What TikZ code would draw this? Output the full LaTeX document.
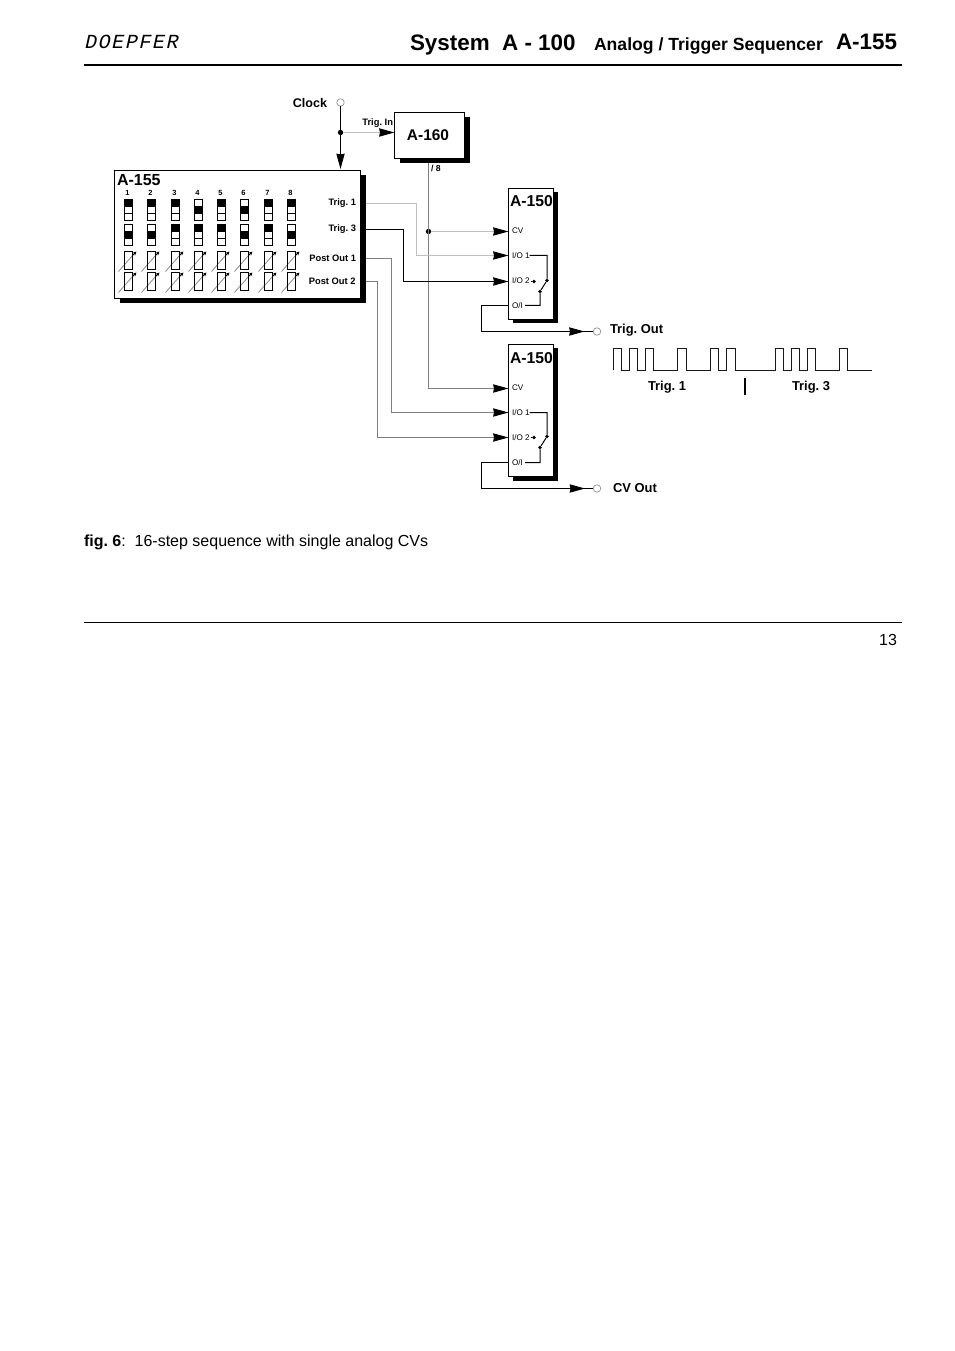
\documentclass[tikz,border=0pt]{standalone}
\usepackage{fontspec}
\setmainfont{Liberation Sans}
\newfontfamily\logofont[FakeSlant=0.22,LetterSpace=8]{Liberation Mono}
\usetikzlibrary{arrows.meta,shadows,calc}
\newcommand{\fsz}[1]{\fontsize{#1}{#1}\selectfont}
\frenchspacing
\tikzset{
  x=0.75pt,y=-0.75pt,
  lbl/.style={inner sep=0pt,outer sep=0pt,anchor=base west,text=black},
  lblr/.style={inner sep=0pt,outer sep=0pt,anchor=base east,text=black},
  lblc/.style={inner sep=0pt,outer sep=0pt,anchor=base,text=black},
  tiny b/.style={lblr,font=\bfseries\fsz{7}},
  port/.style={lbl,font=\fsz{6.1}},
  big b/.style={lbl,font=\bfseries\fsz{11.8}},
  out b/.style={lbl,font=\bfseries\fsz{9.7}},
  blockbox/.style={draw=black,line width=0.75pt,fill=white,rectangle,anchor=north west,inner sep=0pt,outer sep=0pt},
  bigshadow/.style={blockbox,drop shadow={shadow xshift=3.75pt,shadow yshift=-3.75pt,fill=black,opacity=1}},
  slimshadow/.style={blockbox,drop shadow={shadow xshift=3pt,shadow yshift=-3pt,fill=black,opacity=1}},
  jack/.style={circle,draw=black!45,line width=0.5pt,fill=white,minimum size=5.6pt,inner sep=0pt,outer sep=0pt},
  junction/.style={circle,fill=black,minimum size=4pt,inner sep=0pt,outer sep=0pt},
  smalldot/.style={circle,fill=black,minimum size=2.9pt,inner sep=0pt,outer sep=0pt},
  tip/.tip={Stealth[color=black,length=11.5pt,width=6.2pt,inset=0.6pt]},
  blackwire/.style={draw=black,line width=0.75pt},
  graywire/.style={draw=black!50,line width=0.75pt},
  lightwire/.style={draw=black!25,line width=0.75pt},
  cellbox/.style={draw=black,line width=0.75pt},
  pulse/.style={draw=black!90,line width=1.1pt},
}
\begin{document}
\begin{tikzpicture}
\useasboundingbox[fill=white] (0,0) rectangle (954,1351);
% header
\node[lbl,font=\logofont\fsz{15}] (logo) at (84,48.5) {DOEPFER};
\node[lbl,font=\bfseries\fsz{16.8}] (sys) at (410,50.5) {System\ \ A - 100};
\node[lbl,font=\bfseries\fsz{13.2}] (sub) at (594,51) {Analog / Trigger Sequencer};
\node[lblr,font=\bfseries\fsz{16.8}] (mod) at (897,50) {A-155};
\coordinate (hl) at (84,65.5); \coordinate (hr) at (902,65.5);
\draw[line width=1.5pt] (hl) -- (hr);
% footer
\node[lbl,font=\bfseries\fsz{12}] (figa) at (84,546) {fig. 6};
\node[lbl,font=\fsz{12}] (figb) at (figa.base east) {:\ \ 16-step sequence with single analog CVs};
\coordinate (fl) at (84,622.5); \coordinate (fr) at (902,622.5);
\draw[line width=0.75pt] (fl) -- (fr);
\node[lblr,font=\fsz{12}] (page) at (897,645) {13};

% blocks
\node[bigshadow,minimum width=184.5pt,minimum height=96pt] (a155) at (114.5,170.5) {};
\node[bigshadow,minimum width=52.5pt,minimum height=34.5pt] (a160) at (394.5,112.5) {};
\node[slimshadow,minimum width=33.75pt,minimum height=98.25pt] (aup) at (508.5,188.5) {};
\node[slimshadow,minimum width=33.75pt,minimum height=99pt] (alo) at (508.5,344.5) {};
\node[lbl,font=\bfseries\fsz{12}] (t155) at (117,186) {A-155};
\node[lblc,font=\bfseries\fsz{11.6}] (t160) at (428,141) {A-160};
\node[big b] (tup) at (510,206.5) {A-150};
\node[big b] (tlo) at (510,363.5) {A-150};

% step switches
\foreach \cx/\ta/\tb/\lab in {128.5/0/1/1,151.5/0/1/2,175.5/0/0/3,198.5/1/0/4,221.5/0/0/5,244.5/1/1/6,268.5/0/0/7,291.5/0/1/8}{
  \node[lblc,font=\bfseries\fsz{5.6}] at (\cx-1,196) {\lab};
  \fill (\cx-4,199.5+7*\ta) rectangle (\cx+4,206.5+7*\ta);
  \fill (\cx-4,224.5+7*\tb) rectangle (\cx+4,231.5+7*\tb);
  \draw[cellbox] (\cx-4,199.5) rectangle (\cx+4,220.5);
  \draw[cellbox] (\cx-4,206.5) -- (\cx+4,206.5) (\cx-4,213.5) -- (\cx+4,213.5);
  \draw[cellbox] (\cx-4,224.5) rectangle (\cx+4,245.5);
  \draw[cellbox] (\cx-4,231.5) -- (\cx+4,231.5) (\cx-4,238.5) -- (\cx+4,238.5);
  \foreach \py in {251.5,272.5}{
    \draw[draw=black!45,line width=0.6pt] (\cx-10,\py+20) -- (\cx+4,\py+4);
    \draw[cellbox] (\cx-4,\py) rectangle (\cx+4,\py+18);
    \draw[black,line width=0.7pt,-{Stealth[length=3pt,width=2.8pt]}] (\cx+4,\py+4) -- (\cx+8,\py);
  }
}
\node[tiny b] (st1) at (356,205.5) {Trig. 1};
\node[tiny b] (st3) at (356,231.5) {Trig. 3};
\node[tiny b] (spo1) at (356,261.5) {Post Out 1};
\node[tiny b] (spo2) at (355.5,284.5) {Post Out 2};

% coordinates of the outputs and inputs
\coordinate (o1) at (366,203.5);
\coordinate (o3) at (366,229.5);
\coordinate (po1) at (366,258.5);
\coordinate (po2) at (366,281.5);
\foreach \b/\cv/\ia/\ib/\ol in {aup/231.5/255.5/281.5/305.5,alo/388.5/412.5/437.5/462.5}{
  \coordinate (\b cv) at (508.5,\cv);
  \coordinate (\b a) at (508.5,\ia);
  \coordinate (\b b) at (508.5,\ib);
  \coordinate (\b o) at (508.5,\ol);
  \node[port] at (512,\cv+2.5) {CV};
  \node[port] at (512,\ia+3) {I/O 1};
  \node[port] at (512,\ib+2.5) {I/O 2};
  \node[port] at (512,\ol+3) {O/I};
  \node[smalldot] (\b sa) at (534,\ib) {};
  \node[smalldot] (\b sb) at (547,\ib-1) {};
  \node[smalldot] (\b sc) at (540,\ib+10) {};
  \coordinate (\b ae) at (529.5,\ia);
  \coordinate (\b be) at (531,\ib);
  \coordinate (\b oe) at (525,\ol);
  \draw[blackwire] (\b ae) -- ++(17.5,0) -- (\b sb) -- (\b sc) |- (\b oe);
  \draw[blackwire] (\b be) -- (\b sa);
}

% clock
\node[jack] (clk) at (340.5,102.5) {};
\node[lblr,font=\bfseries\fsz{9.4}] (clkt) at (327,107.5) {Clock};
\node[junction] (cj) at (340.5,132.5) {};
\coordinate (cin) at (340.5,169);
\coordinate (tin) at (394.5,132.5);
\draw[lightwire,-tip] (cj) -- (tin);
\draw[blackwire,-tip] (clk) -- (cin);
\node[tiny b] (tint) at (393,125.5) {Trig. In};
\node[lbl,font=\bfseries\fsz{6.5}] (d8) at (431,172) {/ 8};

% wires from A-160
\coordinate (a160o) at (428.5,163.5);
\node[junction] (dj) at (428.5,231.5) {};
\draw[graywire,-tip] (a160o) |- (alocv);
\draw[lightwire,-tip] (dj) -- (aupcv);

% wires from A-155
\draw[lightwire,-tip] (o1) -- ++(50.5,0) |- (aupa);
\draw[blackwire,-tip] (o3) -- ++(37.5,0) |- (aupb);
\draw[graywire,-tip] (po1) -- ++(25.5,0) |- (aloa);
\draw[graywire,-tip] (po2) -- ++(11.5,0) |- (alob);

% outputs
\node[jack] (jt) at (597,331.5) {};
\node[jack] (jc) at (597,488.5) {};
\coordinate (atip) at (584.5,331.5);
\coordinate (ctip) at (585,488.5);
\draw[blackwire] (aupo) -- ++(-27,0) |- (jt);
\draw[blackwire] (aloo) -- ++(-27,0) |- (jc);
\draw[blackwire,-tip] (atip) ++(-2,0) -- (atip);
\draw[blackwire,-tip] (ctip) ++(-2,0) -- (ctip);
\node[out b] (tot) at (610,334) {Trig. Out};
\node[out b] (cvt) at (613,492) {CV Out};

% pulse diagram
\coordinate (ps) at (613.5,370.5);
\draw[pulse,line join=miter] (ps)
  -- (613.5,348.5) -- (621.5,348.5) -- (621.5,370.5) -- (629.5,370.5) -- (629.5,348.5) -- (637.5,348.5) -- (637.5,370.5)
  -- (645.5,370.5) -- (645.5,348.5) -- (653.5,348.5) -- (653.5,370.5) -- (677.5,370.5) -- (677.5,348.5) -- (686.5,348.5) -- (686.5,370.5)
  -- (710.5,370.5) -- (710.5,348.5) -- (718.5,348.5) -- (718.5,370.5) -- (726.5,370.5) -- (726.5,348.5) -- (735.5,348.5) -- (735.5,370.5)
  -- (775.5,370.5) -- (775.5,348.5) -- (783.5,348.5) -- (783.5,370.5) -- (791.5,370.5) -- (791.5,348.5) -- (799.5,348.5) -- (799.5,370.5)
  -- (807.5,370.5) -- (807.5,348.5) -- (815.5,348.5) -- (815.5,370.5) -- (839.5,370.5) -- (839.5,348.5) -- (847.5,348.5) -- (847.5,370.5)
  -- (871.5,370.5);
\coordinate (sa) at (745,378.5); \coordinate (sb) at (745,395);
\draw[line width=1.4pt] (sa) -- (sb);
\node[out b] (lt1) at (648,390.5) {Trig. 1};
\node[out b] (lt3) at (792,390.5) {Trig. 3};
\end{tikzpicture}
\end{document}
